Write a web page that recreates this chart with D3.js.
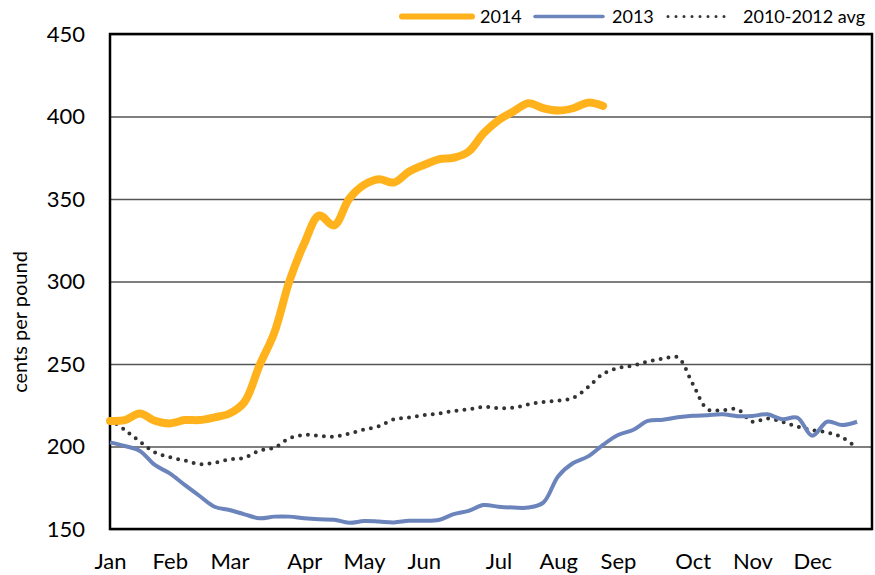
<!DOCTYPE html>
<html>
<head>
<meta charset="utf-8">
<script src="https://cdn.jsdelivr.net/npm/d3@7"></script>
<style>
  body { margin: 0; background: #fff; }
  text { font-family: Lato, "Open Sans", sans-serif; }
</style>
</head>
<body>
<div id="chart"></div>
<script>
// weekly values, index = week of year
let months = ["Jan","Feb","Mar","Apr","May","Jun","Jul","Aug","Sep","Oct","Nov","Dec"];
let monthWeeks = [0,4,8,13,17,21,26,30,34,39,43,47];
let yTicks = [150,200,250,300,350,400,450];

let y2014 = [215.5,216,220,215.6,214,216,216,217.7,220,227,249,269,300,323,340,334,350,358.5,362,360,366.5,370.6,374,375,378.7,389.8,397.8,403,408,405,403.6,405,408.4,406.4];
let y2013 = [202.5,200.3,197.3,188.8,183.7,176.7,170,163.5,161.5,158.9,156.5,157.5,157.5,156.5,155.9,155.6,153.8,154.8,154.5,154,155,155,155.5,159,161,164.5,163.5,163,163,166,182,190,194,201,207,210,215.5,216.2,217.7,218.6,219,219.5,218.4,218.5,219.5,216.5,217.5,206.5,215,213,215];
let yAvg = [216.5,210,203,196.5,193.5,191.5,189.3,190.2,192.2,193.2,197.5,199.3,205,207,206.5,206,207.8,210.3,212.3,216.5,217.5,219,220,221.5,222.5,224,223.3,223.5,225.5,227,227.8,229.5,236,244,247.5,249,251.5,253.2,254,238,222.5,222,222.5,215,217,215,212,210,208.5,205.5,199];

let w = 875;
let h = 575;
let plotL = 110, plotR = 872, plotT = 34, plotB = 529;

let svg = d3.select("#chart")
              .append("svg")
                .attr("width", w)
                .attr("height", h);

let x = d3.scaleLinear().domain([0, 51]).range([plotL, plotR]);
let y = d3.scaleLinear().domain([150, 450]).range([plotB, plotT]);

// gridlines + y labels
let yAxis = svg.append("g")
    .attr("transform", "translate(" + plotL + ",0)")
    .call(d3.axisLeft(y).tickValues(yTicks).tickSize(-(plotR - plotL)).tickPadding(25));
yAxis.select(".domain").remove();
yAxis.selectAll("line").attr("stroke", "#555").attr("stroke-width", 1.3);
yAxis.selectAll("text")
    .attr("font-size", 22)
    .attr("fill", "#000")
    .attr("font-family", "Lato, sans-serif");

// month labels
let xAxis = svg.append("g")
    .attr("transform", "translate(0," + plotB + ")")
    .call(d3.axisBottom(x).tickValues(monthWeeks).tickFormat((d, i) => months[i]).tickSize(0).tickPadding(24));
xAxis.select(".domain").remove();
xAxis.selectAll("text")
    .attr("font-size", 22)
    .attr("fill", "#000")
    .attr("font-family", "Lato, sans-serif");

// plot frame
svg.append("rect")
    .attr("x", plotL)
    .attr("y", plotT)
    .attr("width", plotR - plotL)
    .attr("height", plotB - plotT)
    .attr("fill", "none")
    .attr("stroke", "#000")
    .attr("stroke-width", 2.5);

let line = d3.line()
    .x((d, i) => x(i))
    .y(d => y(d))
    .curve(d3.curveCatmullRom.alpha(0.5));

svg.append("path")
    .attr("d", line(yAvg))
    .attr("fill", "none")
    .attr("stroke", "#333")
    .attr("stroke-width", 4)
    .attr("stroke-linecap", "round")
    .attr("stroke-dasharray", "0 8");

svg.append("path")
    .attr("d", line(y2013))
    .attr("fill", "none")
    .attr("stroke", "#6b84bc")
    .attr("stroke-width", 4);

svg.append("path")
    .attr("d", line(y2014))
    .attr("fill", "none")
    .attr("stroke", "#ffb21c")
    .attr("stroke-width", 8)
    .attr("stroke-linecap", "round")
    .attr("stroke-linejoin", "round");

// y axis title
svg.append("text")
    .attr("transform", "translate(27,322) rotate(-90)")
    .attr("text-anchor", "middle")
    .attr("font-size", 20)
    .text("cents per pound");

// legend
let legend = [
  {name: "2014", x1: 402, x2: 472, tx: 480, color: "#ffb21c", width: 6, dash: null},
  {name: "2013", x1: 535, x2: 603, tx: 612, color: "#6b84bc", width: 3.5, dash: null},
  {name: "2010-2012 avg", x1: 668, x2: 732, tx: 743, color: "#333", width: 3, dash: "0 8"}
];

let lg = svg.selectAll(".lg").data(legend).enter().append("g");
lg.append("line")
    .attr("x1", d => d.x1)
    .attr("x2", d => d.x2)
    .attr("y1", 16.5)
    .attr("y2", 16.5)
    .attr("stroke", d => d.color)
    .attr("stroke-width", d => d.width)
    .attr("stroke-linecap", "round")
    .attr("stroke-dasharray", d => d.dash);
lg.append("text")
    .attr("x", d => d.tx)
    .attr("y", 23)
    .attr("font-size", 18)
    .text(d => d.name);
</script>
</body>
</html>
